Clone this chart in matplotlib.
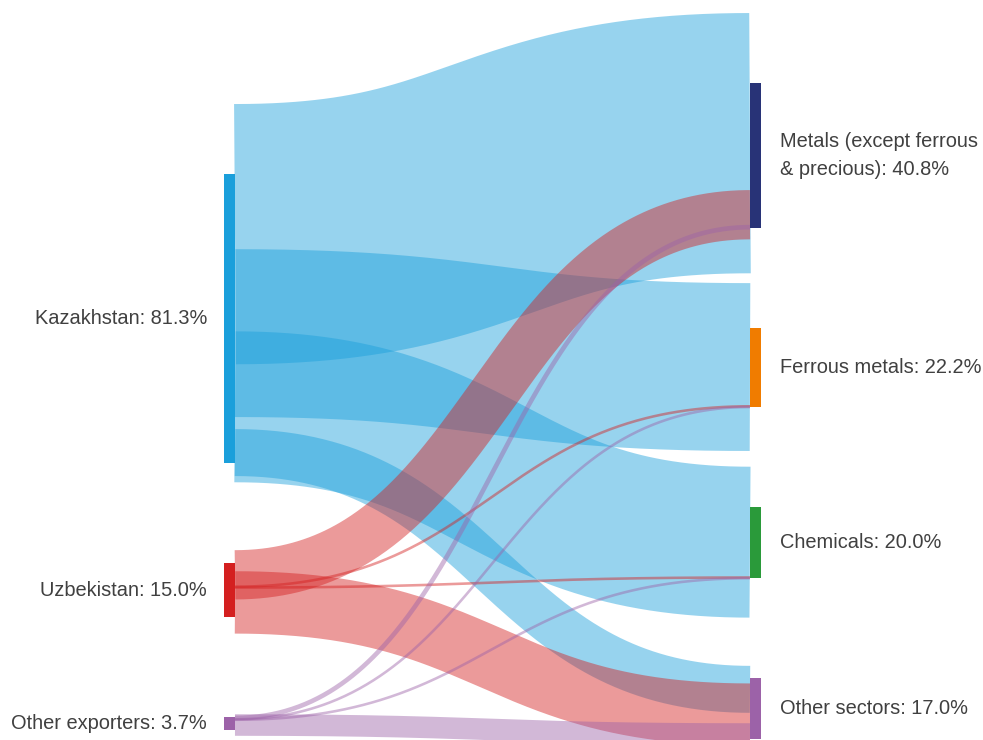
import textwrap
import numpy as np
import matplotlib
matplotlib.use("Agg")
import matplotlib.pyplot as plt

# ---------------- data (share of total, %) ----------------
sources = ["Kazakhstan", "Uzbekistan", "Other exporters"]
targets = ["Metals (except ferrous & precious)", "Ferrous metals", "Chemicals", "Other sectors"]
kazakhstan_flows = [33.8, 21.8, 19.6, 6.1]
uzbekistan_flows = [6.4, 0.25, 0.25, 8.1]
other_exporters_flows = [0.6, 0.15, 0.15, 2.8]
source_totals = [81.3, 15.0, 3.7]
target_totals = [40.8, 22.2, 20.0, 17.0]

source_colors = ["#1a9fdb", "#d41f1f", "#9c62a8"]
target_colors = ["#283377", "#f07c00", "#2a9a3a", "#9c62a8"]

flows = np.array([kazakhstan_flows, uzbekistan_flows, other_exporters_flows])

# ---------------- layout ----------------
W, H = 983, 740
fig = plt.figure(figsize=(W / 100, H / 100), dpi=100)
ax = fig.add_axes([0, 0, 1, 1])
ax.set_xlim(0, W)
ax.set_ylim(H, 0)
ax.axis("off")

node_scale = 3.56      # px per %
link_scale = 7.7       # px of link width per %
min_link_px = 2.6
pad = 100
left_top, right_top = 174, 83
xl0, xl1 = 224, 235
xr0, xr1 = 750, 761
text_color = "#404040"
font = "Liberation Sans"
fs = 14.4

def node_tops(totals, top):
    tops = []
    y = top
    for v in totals:
        tops.append(y)
        y += v * node_scale + pad
    return tops

src_tops = node_tops(source_totals, left_top)
tgt_tops = node_tops(target_totals, right_top)

# ---------------- links ----------------
t = np.linspace(0, 1, 300)
xm = (xl1 + xr0) / 2
bx = (1 - t) ** 3 * xl1 + 3 * (1 - t) ** 2 * t * xm + 3 * (1 - t) * t ** 2 * xm + t ** 3 * xr0
src_off = np.zeros(len(sources))
tgt_off = np.zeros(len(targets))
for i in range(len(sources)):
    for j in range(len(targets)):
        v = flows[i, j]
        y0 = src_tops[i] + (src_off[i] + v / 2) * node_scale
        y1 = tgt_tops[j] + (tgt_off[j] + v / 2) * node_scale
        src_off[i] += v
        tgt_off[j] += v
        by = (1 - t) ** 3 * y0 + 3 * (1 - t) ** 2 * t * y0 + 3 * (1 - t) * t ** 2 * y1 + t ** 3 * y1
        width_px = max(v * link_scale, min_link_px)
        ax.plot(bx, by, color=source_colors[i], alpha=0.45,
                lw=width_px * 72 / 100, solid_capstyle="butt", zorder=2 + i)

# ---------------- nodes ----------------
for i, name in enumerate(sources):
    h = source_totals[i] * node_scale
    ax.add_patch(plt.Rectangle((xl0, src_tops[i]), xl1 - xl0, h,
                               color=source_colors[i], lw=0, zorder=10))
    ax.text(xl0 - 17, src_tops[i] + h / 2, f"{name}: {source_totals[i]:.1f}%",
            ha="right", va="center", fontsize=fs, color=text_color, family=font)

for j, name in enumerate(targets):
    h = target_totals[j] * node_scale
    ax.add_patch(plt.Rectangle((xr0, tgt_tops[j]), xr1 - xr0, h,
                               color=target_colors[j], lw=0, zorder=10))
    label = "\n".join(textwrap.wrap(f"{name}: {target_totals[j]:.1f}%", 22))
    ax.text(xr1 + 19, tgt_tops[j] + h / 2, label, ha="left", va="center",
            fontsize=fs, color=text_color, family=font, linespacing=1.55)

fig.savefig("out.png", dpi=100)
